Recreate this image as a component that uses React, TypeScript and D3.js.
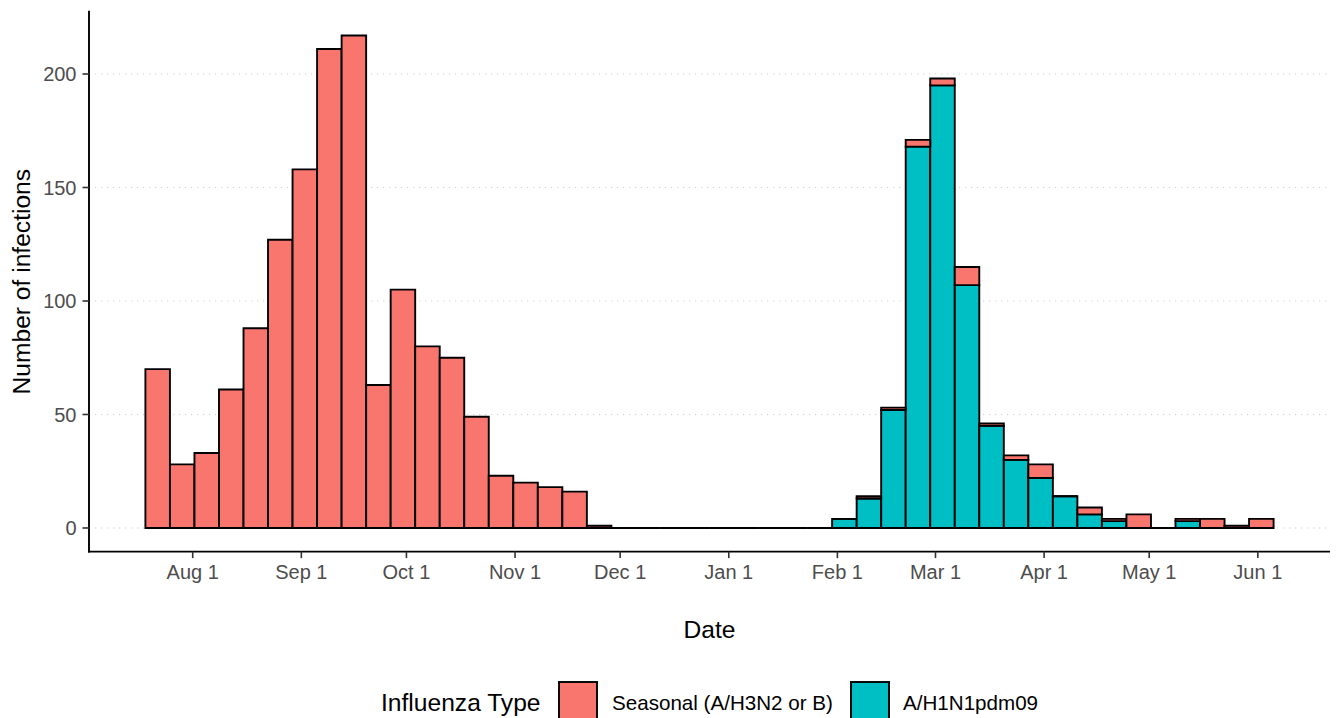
import React from "react";
import * as d3 from "d3";

// Weekly bins (centre dates)
const weeks: string[] = [
  "2009-07-22","2009-07-29","2009-08-05","2009-08-12","2009-08-19","2009-08-26",
  "2009-09-02","2009-09-09","2009-09-16","2009-09-23","2009-09-30",
  "2009-10-07","2009-10-14","2009-10-21","2009-10-28",
  "2009-11-04","2009-11-11","2009-11-18","2009-11-25",
  "2009-12-02","2009-12-09","2009-12-16","2009-12-23","2009-12-30",
  "2010-01-06","2010-01-13","2010-01-20","2010-01-27",
  "2010-02-03","2010-02-10","2010-02-17","2010-02-24",
  "2010-03-03","2010-03-10","2010-03-17","2010-03-24","2010-03-31",
  "2010-04-07","2010-04-14","2010-04-21","2010-04-28",
  "2010-05-05","2010-05-12","2010-05-19","2010-05-26",
  "2010-06-02",
];

const seasonal: number[] = [
  70, 28, 33, 61, 88, 127, 158, 211, 217, 63, 105, 80, 75, 49, 23, 20, 18, 16, 1,
  0, 0, 0, 0, 0, 0, 0, 0, 0,
  0, 1, 1, 3, 3, 8, 1, 2, 6, 0, 3, 1, 6, 0, 1, 4, 1, 4,
];

const h1n1: number[] = [
  0, 0, 0, 0, 0, 0, 0, 0, 0, 0, 0, 0, 0, 0, 0, 0, 0, 0, 0,
  0, 0, 0, 0, 0, 0, 0, 0, 0,
  4, 13, 52, 168, 195, 107, 45, 30, 22, 14, 6, 3, 0, 0, 3, 0, 0, 0,
];

const yTicks: number[] = [0, 50, 100, 150, 200];
const xTickDates: string[] = [
  "2009-08-01","2009-09-01","2009-10-01","2009-11-01","2009-12-01","2010-01-01",
  "2010-02-01","2010-03-01","2010-04-01","2010-05-01","2010-06-01",
];
const monthNames = ["Jan","Feb","Mar","Apr","May","Jun","Jul","Aug","Sep","Oct","Nov","Dec"];

const seriesKeys = ["h1n1", "seasonal"] as const; // bottom first
const seriesLabels: Record<string, string> = {
  seasonal: "Seasonal (A/H3N2 or B)",
  h1n1: "A/H1N1pdm09",
};
const colors: Record<string, string> = { seasonal: "#F8766D", h1n1: "#00BFC4" };

const W = 1336;
const H = 718;
const FONT = "'Liberation Sans', Arial, Helvetica, sans-serif";

export default function App() {
  const DAY = 86400000;
  const rows = weeks.map((w, i) => ({
    centre: new Date(w + "T00:00:00Z"),
    seasonal: seasonal[i],
    h1n1: h1n1[i],
  }));

  const panelLeft = 89;
  const panelRight = 1330;
  const panelTop = 10.8;
  const panelBottom = 552.6;

  const xMin = +rows[0].centre - 3.5 * DAY;
  const xMax = +rows[rows.length - 1].centre + 3.5 * DAY;
  const xPad = (xMax - xMin) * 0.05;
  const x = d3
    .scaleUtc()
    .domain([new Date(xMin - xPad), new Date(xMax + xPad)])
    .range([panelLeft, panelRight]);

  const totals = rows.map((r) => r.seasonal + r.h1n1);
  const yMaxData = d3.max(totals) as number;
  const yPad = yMaxData * 0.05;
  const y = d3
    .scaleLinear()
    .domain([-yPad, yMaxData + yPad])
    .range([panelBottom, panelTop]);

  const stacked = d3.stack<any>().keys(seriesKeys as unknown as string[])(rows);

  const tickColor = "#333333";
  const labelColor = "#4D4D4D";

  return (
    <svg
      width={W}
      height={H}
      viewBox={`0 0 ${W} ${H}`}
      style={{ position: "fixed", left: 0, top: 0, background: "#fff" }}
      fontFamily={FONT}
    >
      <rect x={0} y={0} width={W} height={H} fill="#fff" />
      {/* grid */}
      {yTicks.map((t) => (
        <line
          key={"g" + t}
          x1={panelLeft}
          x2={panelRight}
          y1={y(t)}
          y2={y(t)}
          stroke="#D0D0D0"
          strokeWidth={1.1}
          strokeDasharray="1.2,4.8"
        />
      ))}
      {/* bars */}
      {stacked.map((layer) => (
        <g key={layer.key}>
          {layer.map((d, i) => {
            const r = rows[i];
            const x0 = x(new Date(+r.centre - 3.5 * DAY));
            const x1 = x(new Date(+r.centre + 3.5 * DAY));
            const yTop = y(d[1]);
            const yBot = y(d[0]);
            return (
              <path
                key={i}
                d={`M${x0},${yBot}H${x1}V${yTop}H${x0}Z`}
                fill={colors[layer.key]}
                stroke="#000"
                strokeWidth={1.9}
                strokeLinejoin="miter"
              />
            );
          })}
        </g>
      ))}
      {/* axes */}
      <line x1={panelLeft} x2={panelLeft} y1={panelTop} y2={panelBottom} stroke="#000" strokeWidth={1.9} />
      <line x1={panelLeft - 0.95} x2={panelRight} y1={panelBottom - 1} y2={panelBottom - 1} stroke="#000" strokeWidth={1.9} />
      {yTicks.map((t) => (
        <g key={"yt" + t}>
          <line x1={panelLeft - 6.5} x2={panelLeft} y1={y(t)} y2={y(t)} stroke={tickColor} strokeWidth={1.6} />
          <text
            x={panelLeft - 12.5}
            y={y(t)}
            dy="0.36em"
            textAnchor="end"
            fontSize={20}
            fill={labelColor}
          >
            {t}
          </text>
        </g>
      ))}
      {xTickDates.map((s) => {
        const d = new Date(s + "T00:00:00Z");
        const px = x(d);
        return (
          <g key={"xt" + s}>
            <line x1={px} x2={px} y1={panelBottom - 1} y2={panelBottom + 5.5} stroke={tickColor} strokeWidth={1.6} />
            <text x={px} y={579} textAnchor="middle" fontSize={20} fill={labelColor}>
              {`${monthNames[d.getUTCMonth()]} ${d.getUTCDate()}`}
            </text>
          </g>
        );
      })}
      {/* axis titles */}
      <text x={(panelLeft + panelRight) / 2} y={637.5} textAnchor="middle" fontSize={24.6} fill="#000">
        Date
      </text>
      <text
        transform={`translate(30,${(panelTop + panelBottom) / 2}) rotate(-90)`}
        textAnchor="middle"
        fontSize={24.6}
        fill="#000"
      >
        Number of infections
      </text>
      {/* legend */}
      <text x={381} y={711} fontSize={24.6} fill="#000">
        Influenza Type
      </text>
      {(["seasonal", "h1n1"] as const).map((k, i) => {
        const kx = i === 0 ? 559 : 851;
        const tx = i === 0 ? 612 : 903;
        return (
          <g key={"lg" + k}>
            <rect x={kx} y={682} width={38} height={40} fill={colors[k]} stroke="#000" strokeWidth={1.9} />
            <text x={tx} y={710} fontSize={20.6} fill="#000">
              {seriesLabels[k]}
            </text>
          </g>
        );
      })}
    </svg>
  );
}
